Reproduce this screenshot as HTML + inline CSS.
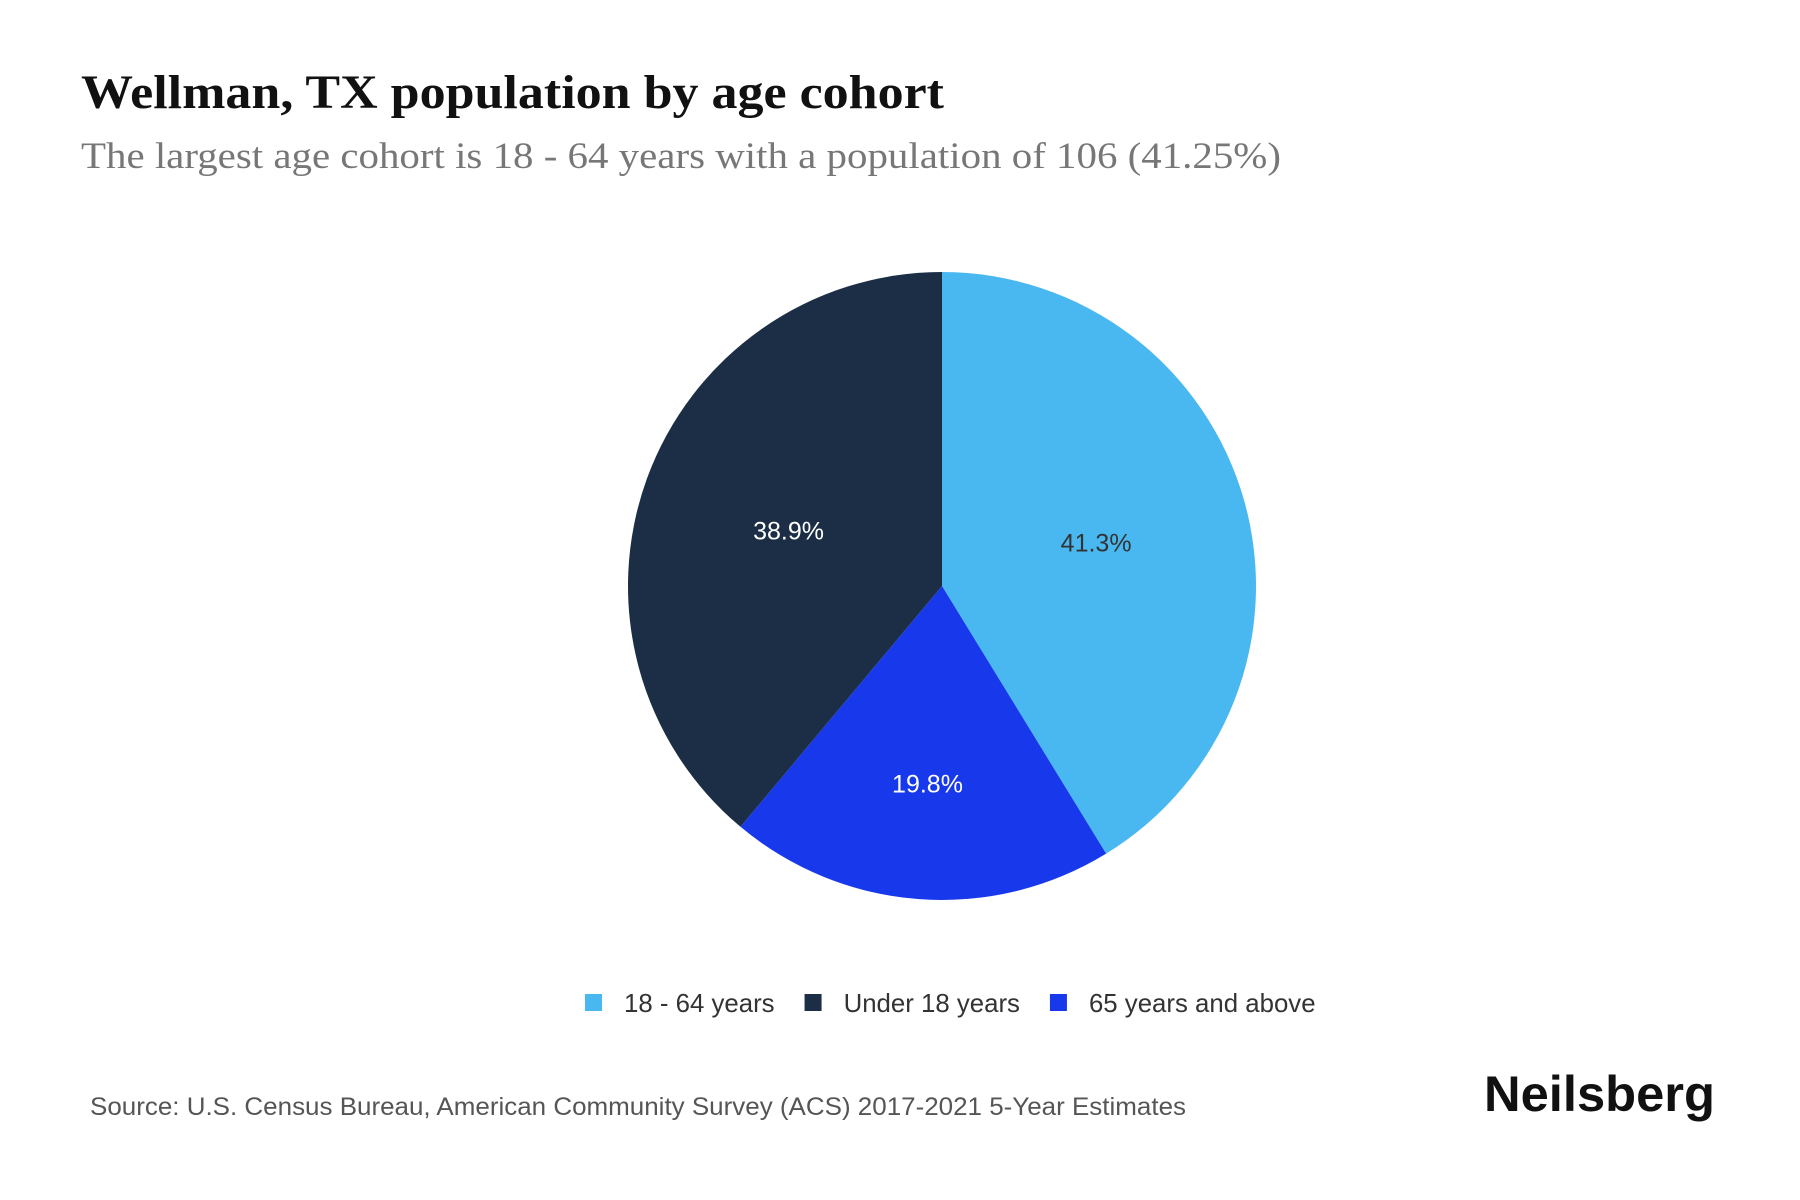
<!DOCTYPE html>
<html><head><meta charset="utf-8"><style>
body{margin:0;background:#fff;width:1800px;height:1200px;overflow:hidden}
svg{display:block}
</style></head><body>
<svg id="chart" width="1800" height="1200">
<text x="81" y="108" textLength="863" lengthAdjust="spacingAndGlyphs" font-family="Liberation Serif, serif" font-weight="bold" font-size="48" fill="#111">Wellman, TX population by age cohort</text>
<text x="81" y="168" textLength="1200" lengthAdjust="spacingAndGlyphs" font-family="Liberation Serif, serif" font-size="37" fill="#777">The largest age cohort is 18 - 64 years with a population of 106 (41.25%)</text>
<g id="slices"></g>
<g id="legend"></g>
<text x="90" y="1115" textLength="1096" lengthAdjust="spacingAndGlyphs" font-family="Liberation Sans, sans-serif" font-size="25" fill="#555">Source: U.S. Census Bureau, American Community Survey (ACS) 2017-2021 5-Year Estimates</text>
<text x="1484" y="1111" textLength="231" lengthAdjust="spacingAndGlyphs" font-family="Liberation Sans, sans-serif" font-weight="bold" font-size="50" fill="#111">Neilsberg</text>
</svg>
<script>
const categories=["18 - 64 years","Under 18 years","65 years and above"];
const values=[106,100,51];
const printedValues=["41.3%","38.9%","19.8%"];
const sliceOrder=[0,2,1];
const colors=["#4ab8f0","#1b2e45","#1839eb"];
const labelColors=["#333","#fff","#fff"];
const labelRadius=[0.51,0.52,0.63];
const NS="http://www.w3.org/2000/svg";
const cx=942,cy=586,r=314;
const total=values.reduce((a,b)=>a+b,0);
const g=document.getElementById('slices');
let a0=0;
sliceOrder.forEach(i=>{
  const frac=values[i]/total;
  const a1=a0+frac*2*Math.PI;
  const p=(a)=>[cx+r*Math.sin(a),cy-r*Math.cos(a)];
  const [x0,y0]=p(a0),[x1,y1]=p(a1);
  const path=document.createElementNS(NS,'path');
  path.setAttribute('d',`M${cx},${cy}L${x0},${y0}A${r},${r} 0 ${frac>0.5?1:0} 1 ${x1},${y1}Z`);
  path.setAttribute('fill',colors[i]);
  
  
  g.appendChild(path);
  const am=(a0+a1)/2,lr=r*labelRadius[i];
  const t=document.createElementNS(NS,'text');
  t.setAttribute('x',cx+lr*Math.sin(am));
  t.setAttribute('y',cy-lr*Math.cos(am)+9);
  t.setAttribute('text-anchor','middle');
  t.setAttribute('font-family','Liberation Sans, sans-serif');
  t.setAttribute('font-size','25');
  t.setAttribute('fill',labelColors[i]);
  t.textContent=printedValues[i];
  
  
  g.appendChild(t);
  a0=a1;
});
const lg=document.getElementById('legend');
let lx=585;
categories.forEach((c,i)=>{
  const rect=document.createElementNS(NS,'rect');
  rect.setAttribute('x',lx);rect.setAttribute('y',994);
  rect.setAttribute('width',17);rect.setAttribute('height',17);
  rect.setAttribute('fill',colors[i]);
  
  
  lg.appendChild(rect);
  const t=document.createElementNS(NS,'text');
  t.setAttribute('x',lx+39);t.setAttribute('y',1012);
  t.setAttribute('font-family','Liberation Sans, sans-serif');
  t.setAttribute('font-size','25.8');t.setAttribute('fill','#333');
  t.textContent=c;
  
  
  lg.appendChild(t);
  lx+=39+t.getComputedTextLength()+30;
});
</script>
</body></html>
